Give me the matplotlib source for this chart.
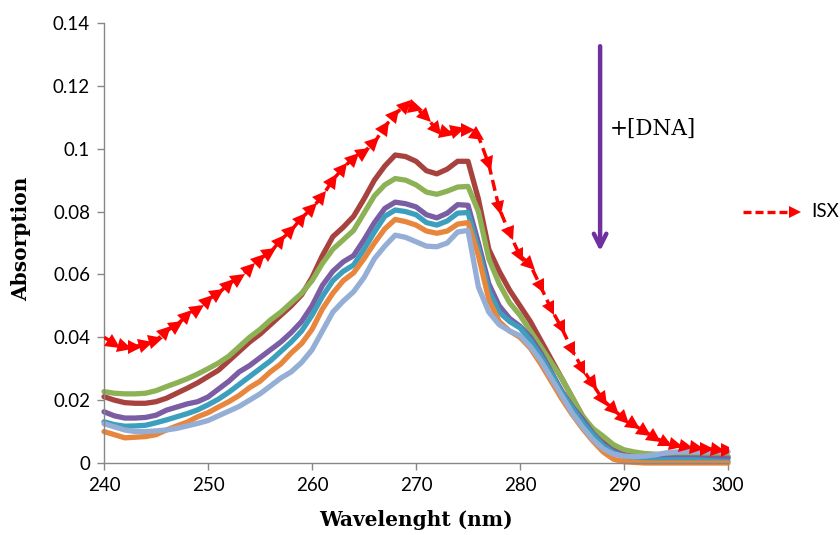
import numpy as np
import matplotlib
matplotlib.use("Agg")
import matplotlib.pyplot as plt
from matplotlib.markers import MarkerStyle
from matplotlib.transforms import Affine2D
from matplotlib.lines import Line2D

# wavelength grid, 1 nm step
wavelength = list(range(240, 301))

# free ISX spectrum
isx = [0.040, 0.038, 0.037, 0.037, 0.038, 0.039, 0.042, 0.044, 0.047, 0.049,
       0.052, 0.054, 0.057, 0.059, 0.062, 0.065, 0.067, 0.071, 0.074, 0.078,
       0.081, 0.085, 0.090, 0.094, 0.097, 0.099, 0.102, 0.107, 0.111, 0.114,
       0.113, 0.110, 0.106, 0.105, 0.106, 0.106, 0.104, 0.095, 0.081, 0.073,
       0.066, 0.063, 0.056, 0.049, 0.043, 0.036, 0.030, 0.025, 0.020, 0.017,
       0.014, 0.012, 0.010, 0.008, 0.0065, 0.0057, 0.005, 0.0047, 0.0045, 0.0042,
       0.004]

# spectra with increasing DNA concentration
dna1 = [0.0211, 0.0200, 0.0192, 0.0190, 0.0190, 0.0195, 0.0206, 0.0222, 0.0238, 0.0255,
        0.0275, 0.0295, 0.0325, 0.0355, 0.0385, 0.0410, 0.0440, 0.0470, 0.0500, 0.0535,
        0.0590, 0.0660, 0.0720, 0.0750, 0.0785, 0.0840, 0.0900, 0.0945, 0.0980, 0.0975,
        0.0960, 0.0930, 0.0920, 0.0935, 0.0960, 0.0960, 0.0840, 0.0680, 0.0610, 0.0550,
        0.0500, 0.0450, 0.0390, 0.0330, 0.0270, 0.0210, 0.0150, 0.0100, 0.0070, 0.0050,
        0.0040, 0.0032, 0.0028, 0.0025, 0.0022, 0.0020, 0.0020, 0.0020, 0.0020, 0.0020,
        0.0020]
dna2 = [0.0227, 0.0222, 0.0220, 0.0220, 0.0222, 0.0230, 0.0243, 0.0255, 0.0268, 0.0283,
        0.0300, 0.0318, 0.0340, 0.0370, 0.0400, 0.0425, 0.0455, 0.0480, 0.0510, 0.0540,
        0.0580, 0.0635, 0.0680, 0.0710, 0.0740, 0.0795, 0.0850, 0.0885, 0.0905, 0.0900,
        0.0885, 0.0862, 0.0855, 0.0865, 0.0878, 0.0880, 0.0800, 0.0650, 0.0570, 0.0510,
        0.0470, 0.0420, 0.0370, 0.0320, 0.0270, 0.0210, 0.0150, 0.0110, 0.0085, 0.0058,
        0.0042, 0.0035, 0.0030, 0.0028, 0.0026, 0.0025, 0.0025, 0.0024, 0.0022, 0.0020,
        0.0020]
dna3 = [0.0163, 0.0150, 0.0143, 0.0143, 0.0145, 0.0152, 0.0168, 0.0178, 0.0188, 0.0195,
        0.0210, 0.0235, 0.0260, 0.0290, 0.0310, 0.0335, 0.0360, 0.0385, 0.0415, 0.0450,
        0.0500, 0.0565, 0.0610, 0.0640, 0.0660, 0.0710, 0.0765, 0.0810, 0.0830, 0.0825,
        0.0815, 0.0790, 0.0780, 0.0795, 0.0822, 0.0820, 0.0700, 0.0570, 0.0500, 0.0460,
        0.0435, 0.0400, 0.0350, 0.0290, 0.0230, 0.0180, 0.0140, 0.0095, 0.0060, 0.0038,
        0.0025, 0.0020, 0.0018, 0.0015, 0.0015, 0.0016, 0.0016, 0.0016, 0.0015, 0.0015,
        0.0015]
dna4 = [0.0131, 0.0122, 0.0117, 0.0118, 0.0120, 0.0128, 0.0137, 0.0147, 0.0157, 0.0169,
        0.0185, 0.0203, 0.0225, 0.0250, 0.0275, 0.0300, 0.0325, 0.0355, 0.0385, 0.0420,
        0.0470, 0.0530, 0.0580, 0.0610, 0.0630, 0.0680, 0.0735, 0.0785, 0.0805, 0.0800,
        0.0790, 0.0765, 0.0757, 0.0770, 0.0795, 0.0797, 0.0680, 0.0550, 0.0480, 0.0450,
        0.0430, 0.0390, 0.0340, 0.0285, 0.0225, 0.0175, 0.0130, 0.0090, 0.0055, 0.0033,
        0.0020, 0.0014, 0.0012, 0.0010, 0.0010, 0.0010, 0.0010, 0.0010, 0.0008, 0.0006,
        0.0005]
dna5 = [0.0100, 0.0090, 0.0080, 0.0082, 0.0084, 0.0090, 0.0105, 0.0118, 0.0130, 0.0147,
        0.0160, 0.0178, 0.0195, 0.0215, 0.0240, 0.0260, 0.0290, 0.0315, 0.0350, 0.0380,
        0.0425, 0.0490, 0.0540, 0.0580, 0.0605, 0.0650, 0.0700, 0.0745, 0.0775, 0.0768,
        0.0757, 0.0738, 0.0731, 0.0738, 0.0760, 0.0765, 0.0660, 0.0520, 0.0450, 0.0420,
        0.0400, 0.0365, 0.0315, 0.0260, 0.0205, 0.0155, 0.0110, 0.0070, 0.0035, 0.0012,
        0.0004, 0.0002, 0.0, 0.0, 0.0, 0.0, 0.0, 0.0, 0.0, 0.0,
        0.0]
dna6 = [0.0125, 0.0115, 0.0105, 0.0100, 0.0100, 0.0102, 0.0105, 0.0110, 0.0118, 0.0126,
        0.0135, 0.0150, 0.0165, 0.0180, 0.0200, 0.0220, 0.0245, 0.0270, 0.0290, 0.0320,
        0.0360, 0.0420, 0.0480, 0.0515, 0.0545, 0.0590, 0.0650, 0.0690, 0.0725, 0.0718,
        0.0704, 0.0690, 0.0688, 0.0700, 0.0735, 0.0740, 0.0560, 0.0480, 0.0440, 0.0420,
        0.0405, 0.0370, 0.0325, 0.0270, 0.0215, 0.0160, 0.0115, 0.0075, 0.0045, 0.0028,
        0.0022, 0.0020, 0.0022, 0.0026, 0.0032, 0.0035, 0.0036, 0.0036, 0.0036, 0.0036,
        0.0036]

series = [dna1, dna2, dna3, dna4, dna5, dna6]
colors = ["#A8423F", "#8DB255", "#7A5DA3", "#3C9FBD", "#E7863C", "#94AED6"]

fig = plt.figure(figsize=(8.4, 5.35), dpi=100)
ax = fig.add_axes([0.1238, 0.1346, 0.7429, 0.8224])
ax.set_xlim(240, 300)
ax.set_ylim(0, 0.14)

for ys, c in zip(series, colors):
    ax.plot(wavelength, ys, color=c, lw=3.8, solid_capstyle="round",
            solid_joinstyle="round", clip_on=False, zorder=2)

red = "#FF0000"
ax.plot(wavelength, isx, color=red, lw=2.5, ls=(0, (3.2, 1.6)), zorder=3)

# arrowheads at the end of every segment, pointing along the line
pts = ax.transData.transform(np.column_stack([wavelength, isx]))
for i in range(1, len(pts)):
    dx, dy = pts[i] - pts[i - 1]
    ang = np.degrees(np.arctan2(dy, dx))
    m = MarkerStyle(">", transform=Affine2D().rotate_deg(ang))
    ax.plot(wavelength[i], isx[i], marker=m, color=red, ms=10, mew=0, zorder=4)

ax.spines["top"].set_visible(False)
ax.spines["right"].set_visible(False)
for s in ("left", "bottom"):
    ax.spines[s].set_color("#878787")
    ax.spines[s].set_linewidth(1.0)

ax.set_xticks(range(240, 301, 10))
ax.set_yticks([0, 0.02, 0.04, 0.06, 0.08, 0.1, 0.12, 0.14])
ax.set_yticklabels(["0", "0.02", "0.04", "0.06", "0.08", "0.1", "0.12", "0.14"])
ax.tick_params(direction="out", length=5, width=1, color="#878787",
               labelsize=13.5, pad=5)
for lab in ax.get_xticklabels() + ax.get_yticklabels():
    lab.set_family("Lato")

ax.set_xlabel("Wavelenght (nm)", family="DejaVu Serif", fontweight="bold",
              fontsize=14.5, va="center")
ax.xaxis.set_label_coords(0.5, -0.13)
ax.set_ylabel("Absorption", family="DejaVu Serif", fontweight="bold",
              fontsize=14.5, va="center")
ax.yaxis.set_label_coords(-0.132, 0.51)

# DNA addition arrow
ax.annotate("", xy=(287.7, 0.0665), xytext=(287.7, 0.1335),
            arrowprops=dict(arrowstyle="->,head_length=0.9,head_width=0.45",
                            color="#7030A0", lw=3.2))
ax.text(288.6, 0.1063, "+[DNA]", family="DejaVu Serif", fontsize=15.5,
        va="center", ha="left")

# legend entry outside the axes
fig.add_artist(Line2D([0.884, 0.945], [0.604, 0.604], color=red, lw=2.4,
                      ls=(0, (2.4, 1.2)), transform=fig.transFigure))
fig.add_artist(Line2D([0.947], [0.604], color=red, marker=">", ms=9, mew=0,
                      transform=fig.transFigure))
fig.text(0.966, 0.604, "ISX", family="Lato", fontsize=13.5, va="center", ha="left")

fig.savefig("out.png", dpi=100)
